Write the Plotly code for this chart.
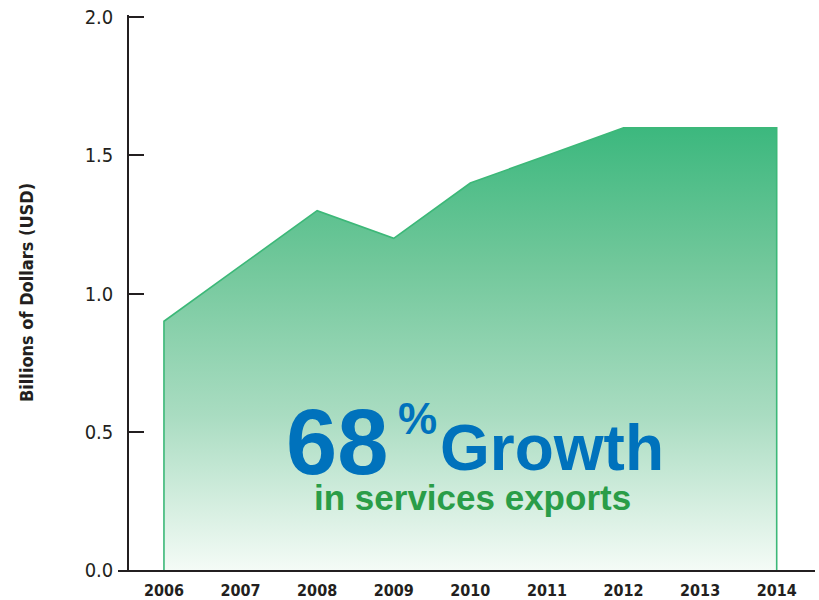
import plotly.graph_objects as go

years = [2006, 2007, 2008, 2009, 2010, 2011, 2012, 2013, 2014]
values = [0.9, 1.1, 1.3, 1.2, 1.4, 1.5, 1.6, 1.6, 1.6]
y_ticks = [0.0, 0.5, 1.0, 1.5, 2.0]
y_tick_labels = ["0.0", "0.5", "1.0", "1.5", "2.0"]
y_title = "Billions of Dollars (USD)"
headline_num = "68"
headline_pct = "%"
headline_word = "Growth"
subline = "in services exports"

NARROW = "DejaVu Sans Condensed, Liberation Sans Narrow, Arial Narrow, sans-serif"
DARK = "#231f20"
GREEN_LINE = "#3cb878"
BLUE = "#0072bc"
GREEN_TEXT = "#2a9d48"

# closed polygon down to the baseline
poly_x = [years[0]] + years + [years[-1]]
poly_y = [0] + values + [0]

fig = go.Figure()
fig.add_trace(go.Scatter(
    x=poly_x, y=poly_y,
    mode="lines",
    fill="toself",
    line=dict(color=GREEN_LINE, width=1.6),
    fillgradient=dict(
        type="vertical",
        colorscale=[[0, "#f4fbf6"], [0.35, "#a9dcc1"], [0.7, "#70c79a"], [1, "#3cb87e"]],
    ),
    hoverinfo="skip",
    showlegend=False,
))

# the page body margin is removed below, so figure coords = screen coords
FIG_W, FIG_H = 819, 600
plot_left = 118
plot_right = FIG_W - 815
plot_top = 15
plot_bottom = FIG_H - 570
plot_w = FIG_W - plot_left - plot_right
plot_h = FIG_H - plot_top - plot_bottom
yaxis_pos = 10 / plot_w
Y_MAX = 2.008

fig.update_layout(
    width=FIG_W, height=FIG_H,
    margin=dict(l=plot_left, r=plot_right, t=plot_top, b=plot_bottom, autoexpand=False),
    paper_bgcolor="white",
    plot_bgcolor="white",
    showlegend=False,
    hovermode=False,
    xaxis=dict(
        range=[2005.4, 2014.5],
        automargin=False,
        tickmode="array",
        tickvals=years,
        ticktext=[str(y) for y in years],
        showgrid=False,
        zeroline=False,
        showline=True,
        linecolor=DARK,
        linewidth=1.5,
        ticks="",
        ticklabelstandoff=5,
        layer="below traces",
        tickfont=dict(family=NARROW, size=16, color=DARK, weight="bold"),
    ),
    yaxis=dict(
        range=[0, Y_MAX],
        automargin=False,
        anchor="free",
        position=yaxis_pos,
        tickmode="array",
        tickvals=y_ticks,
        ticktext=y_tick_labels,
        showgrid=False,
        zeroline=False,
        showline=True,
        linecolor=DARK,
        linewidth=1.5,
        ticks="inside",
        ticklen=15,
        tickwidth=1.5,
        tickcolor=DARK,
        ticklabelstandoff=10,
        ticklabeloverflow="allow",
        layer="below traces",
        tickfont=dict(family=NARROW, size=20, color=DARK),
        title=dict(text=y_title, standoff=45,
                   font=dict(family=NARROW, size=18, color=DARK, weight="bold")),
    ),
)

BOLD = "Liberation Sans, Arial, Helvetica, sans-serif"

def px_to_paper(px, py):
    return (px - plot_left) / plot_w, (FIG_H - plot_bottom - py) / plot_h

for text, cx, cy, size, color in [
    (headline_num, 336.5, 441.5, 92, BLUE),
    (headline_pct, 417.5, 418, 44, BLUE),
    (headline_word, 551.5, 448, 64, BLUE),
    (subline, 472, 497, 35, GREEN_TEXT),
]:
    x, y = px_to_paper(cx, cy)
    fig.add_annotation(
        x=x, y=y, xref="paper", yref="paper",
        text=text, showarrow=False,
        xanchor="center", yanchor="middle",
        font=dict(family=BOLD, size=size, color=color, weight="bold"),
    )

fig.write_html(
    "out.html",
    config={"displayModeBar": False},
    post_script="document.body.style.margin='0';document.body.style.overflow='hidden';",
)
